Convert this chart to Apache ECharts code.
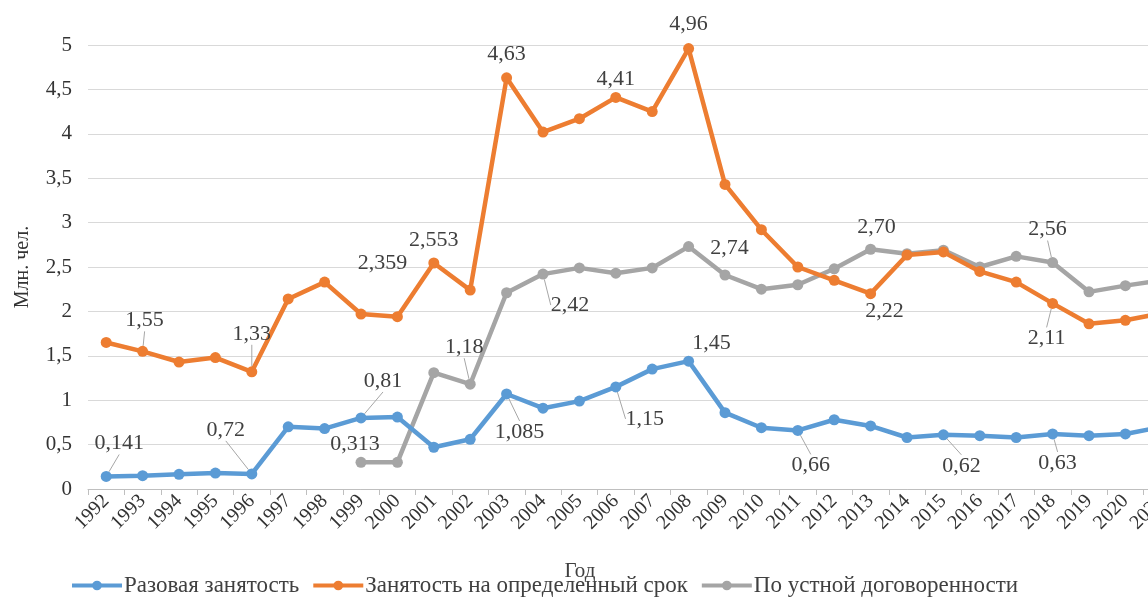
<!DOCTYPE html>
<html>
<head>
<meta charset="utf-8">
<script src="https://cdn.jsdelivr.net/npm/echarts@6/dist/echarts.min.js"></script>
<style>
  html, body { margin: 0; padding: 0; background: #fff; overflow: hidden; }
  /* график шире окна: 2021 год обрезан справа, как в оригинале */
  #chart { width: 1180px; height: 602px; }
</style>
</head>
<body>
<div id="chart"></div>
<script>
const years = ['1992', '1993', '1994', '1995', '1996', '1997', '1998', '1999', '2000', '2001',
  '2002', '2003', '2004', '2005', '2006', '2007', '2008', '2009', '2010', '2011',
  '2012', '2013', '2014', '2015', '2016', '2017', '2018', '2019', '2020', '2021'];

const oneTime = [0.141, 0.15, 0.165, 0.18, 0.17, 0.70, 0.68, 0.80, 0.81, 0.47,
  0.56, 1.07, 0.91, 0.99, 1.15, 1.35, 1.44, 0.86, 0.69, 0.66,
  0.78, 0.71, 0.58, 0.61, 0.60, 0.58, 0.62, 0.60, 0.62, 0.70];

const fixedTerm = [1.65, 1.55, 1.43, 1.48, 1.32, 2.14, 2.33, 1.97, 1.94, 2.545,
  2.24, 4.63, 4.02, 4.17, 4.41, 4.25, 4.96, 3.43, 2.92, 2.50,
  2.35, 2.20, 2.635, 2.67, 2.45, 2.33, 2.09, 1.86, 1.90, 1.98];

const oral = [null, null, null, null, null, null, null, 0.30, 0.30, 1.31,
  1.18, 2.21, 2.42, 2.49, 2.43, 2.49, 2.73, 2.41, 2.25, 2.30,
  2.48, 2.70, 2.65, 2.69, 2.50, 2.62, 2.55, 2.22, 2.29, 2.35];

const seriesNames = ['Разовая занятость', 'Занятость на определенный срок', 'По устной договоренности'];

// подписи точек (текст по годам)
const oneTimeLabels = { 1992: '0,141', 1996: '0,72', 1999: '0,81', 2003: '1,085', 2006: '1,15',
  2008: '1,45', 2011: '0,66', 2015: '0,62', 2018: '0,63' };
const fixedTermLabels = { 1993: '1,55', 1996: '1,33', 1998: '2,359', 2001: '2,553', 2003: '4,63',
  2006: '4,41', 2008: '4,96', 2013: '2,22', 2018: '2,11' };
const oralLabels = { 1999: '0,313', 2002: '1,18', 2004: '2,42', 2008: '2,74', 2013: '2,70', 2018: '2,56' };

// смещение подписи от точки: [dx, dy, выноска]
const labelShift = [
  { 1992: [13, -33, 1], 1996: [-26, -44, 1], 1999: [22, -37, 1], 2003: [13, 38, 1], 2006: [29, 32, 1],
    2008: [23, -18, 0], 2011: [13, 35, 1], 2015: [18, 31, 1], 2018: [5, 29, 1] },
  { 1993: [2, -31, 1], 1996: [0, -38, 1], 1998: [58, -19, 0], 2001: [0, -23, 0], 2003: [0, -24, 0],
    2006: [0, -18, 0], 2008: [0, -24, 0], 2013: [14, 18, 0], 2018: [-6, 35, 1] },
  { 1999: [-6, -18, 0], 2002: [-6, -37, 1], 2004: [27, 31, 1], 2008: [41, 2, 0], 2013: [6, -22, 0],
    2018: [-5, -33, 1] }
];

const colors = ['#5b9bd5', '#ed7d31', '#a5a5a5'];
const font = '"Liberation Serif", "Times New Roman", serif';

function buildData(values, labels, si) {
  return values.map(function (v, i) {
    const y = years[i];
    if (labels[y] == null) return v;
    const sh = labelShift[si][y];
    return {
      value: v,
      label: { show: true, formatter: labels[y] },
      labelLine: { show: !!sh[2] }
    };
  });
}

function makeSeries(name, values, labels, si) {
  return {
    name: name,
    type: 'line',
    data: buildData(values, labels, si),
    color: colors[si],
    symbol: 'circle',
    symbolSize: 11,
    lineStyle: { width: 4.5 },
    z: 3 - si,
    label: {
      show: false,
      fontFamily: font,
      fontSize: 22,
      color: '#404040'
    },
    labelLine: {
      show: false,
      lineStyle: { color: '#a6a6a6', width: 1 }
    },
    labelLayout: function (params) {
      const sh = labelShift[si][years[params.dataIndex]];
      if (!sh) return {};
      return {
        x: params.rect.x + params.rect.width / 2 + sh[0],
        y: params.rect.y + params.rect.height / 2 + sh[1],
        align: 'center',
        verticalAlign: 'middle'
      };
    }
  };
}

const chart = echarts.init(document.getElementById('chart'));
chart.setOption({
  animation: false,
  textStyle: { fontFamily: font },
  grid: { left: 88, top: 45, right: 0, bottom: 113, containLabel: false },
  legend: {
    data: seriesNames,
    left: 70,
    top: 574,
    itemWidth: 50,
    itemHeight: 12,
    itemGap: 12,
    lineStyle: { width: 4 },
    textStyle: { fontFamily: font, fontSize: 23, color: '#404040', padding: [0, 0, 0, -3] },
    padding: 0
  },
  xAxis: {
    type: 'category',
    data: years,
    name: 'Год',
    nameLocation: 'middle',
    nameGap: 72,
    nameTextStyle: { fontFamily: font, fontSize: 21, color: '#404040', padding: [0, 108, 0, 0] },
    axisLine: { lineStyle: { color: '#bfbfbf' } },
    axisTick: { show: true, length: 6, lineStyle: { color: '#bfbfbf' } },
    axisLabel: { rotate: 45, fontFamily: font, fontSize: 20, color: '#333', margin: 9, interval: 0 }
  },
  yAxis: {
    type: 'value',
    min: 0,
    max: 5,
    interval: 0.5,
    name: 'Млн. чел.',
    nameLocation: 'middle',
    nameGap: 55,
    nameTextStyle: { fontFamily: font, fontSize: 20, color: '#333' },
    axisLine: { show: false },
    axisTick: { show: false },
    splitLine: { lineStyle: { color: '#d9d9d9' } },
    axisLabel: {
      fontFamily: font,
      fontSize: 21,
      color: '#333',
      margin: 16,
      formatter: function (v) { return String(v).replace('.', ','); }
    }
  },
  series: [
    makeSeries(seriesNames[0], oneTime, oneTimeLabels, 0),
    makeSeries(seriesNames[1], fixedTerm, fixedTermLabels, 1),
    makeSeries(seriesNames[2], oral, oralLabels, 2)
  ]
});
</script>
</body>
</html>
